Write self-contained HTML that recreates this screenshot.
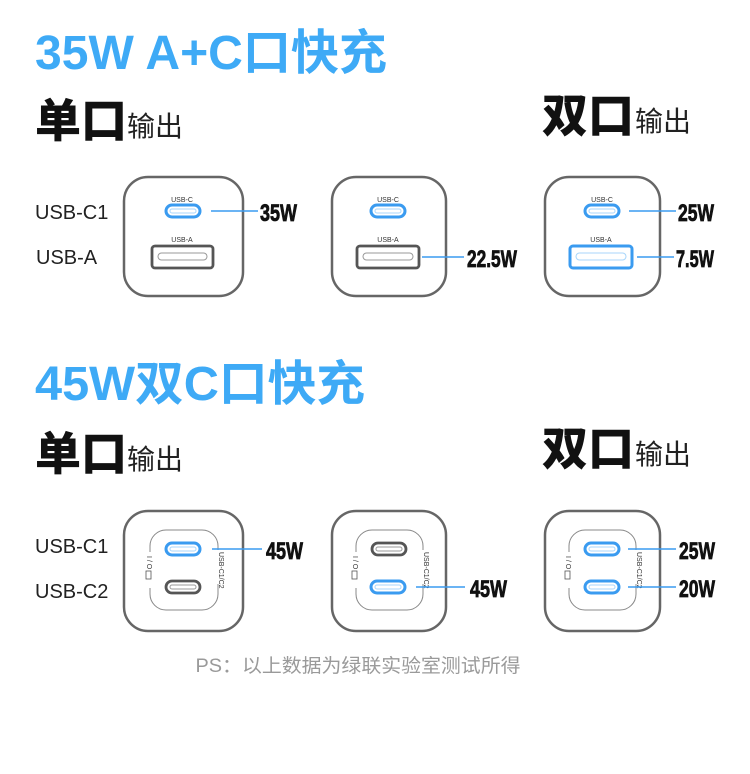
<!DOCTYPE html>
<html><head><meta charset="utf-8"><style>
html,body{margin:0;padding:0;background:#fff;}
svg{display:block;}
.ttl{font-family:"Liberation Sans","Noto Sans CJK SC",sans-serif;font-weight:bold;fill:#3eaaf6;}
.big{font-family:"Liberation Sans","Noto Sans CJK SC",sans-serif;font-weight:900;fill:#111;}
.sm{font-family:"Liberation Sans","Noto Sans CJK SC",sans-serif;fill:#222;}
.lab{font-family:"Liberation Sans",sans-serif;fill:#222;font-size:20px;}
.num{font-family:"Liberation Sans Narrow","Liberation Sans",sans-serif;font-weight:bold;fill:#111;font-size:24px;stroke:#111;stroke-width:0.8;}
.tiny{font-family:"Liberation Sans",sans-serif;fill:#333;font-size:7px;}
.box{fill:#fff;stroke:#666;stroke-width:2.5;}
.bp{fill:none;stroke:#3a9bf0;stroke-width:3;}
.bpi{fill:none;stroke:#a8d6fb;stroke-width:1;}
.gp{fill:none;stroke:#555;stroke-width:2.8;}
.gpi{fill:none;stroke:#999;stroke-width:1;}
.ln{stroke:#3a9bf0;stroke-width:1.5;}
.inn{fill:none;stroke:#888;stroke-width:1;}
</style></head><body>
<svg width="750" height="774" viewBox="0 0 750 774" xmlns="http://www.w3.org/2000/svg">
<text class="ttl" x="35" y="69" font-size="48" textLength="352" lengthAdjust="spacingAndGlyphs">35W A+C口快充</text>
<text class="big" x="35" y="137" font-size="46">单口</text>
<text class="sm" x="127" y="136" font-size="28">输出</text>
<text class="big" x="542" y="132" font-size="46">双口</text>
<text class="sm" x="635" y="131" font-size="28">输出</text>

<text class="lab" x="35" y="219">USB-C1</text>
<text class="lab" x="36" y="264">USB-A</text>

<rect class="box" x="124" y="177" width="119" height="119" rx="24"/>
<text class="tiny" x="182" y="202" text-anchor="middle">USB-C</text>
<rect class="bp" x="166" y="205" width="34" height="12" rx="6"/>
<rect class="bpi" x="170" y="209" width="26" height="4" rx="2"/>
<text class="tiny" x="182" y="242" text-anchor="middle">USB-A</text>
<rect class="gp" x="152" y="246" width="61" height="22" rx="3"/>
<rect class="gpi" x="158" y="253" width="49" height="7" rx="3.5"/>
<line class="ln" x1="211" y1="211" x2="258" y2="211"/>
<text class="num" x="260" y="221" textLength="37" lengthAdjust="spacingAndGlyphs">35W</text>

<rect class="box" x="332" y="177" width="114" height="119" rx="24"/>
<text class="tiny" x="388" y="202" text-anchor="middle">USB-C</text>
<rect class="bp" x="371" y="205" width="34" height="12" rx="6"/>
<rect class="bpi" x="375" y="209" width="26" height="4" rx="2"/>
<text class="tiny" x="388" y="242" text-anchor="middle">USB-A</text>
<rect class="gp" x="357" y="246" width="62" height="22" rx="3"/>
<rect class="gpi" x="363" y="253" width="50" height="7" rx="3.5"/>
<line class="ln" x1="422" y1="257" x2="464" y2="257"/>
<text class="num" x="467" y="267" textLength="50" lengthAdjust="spacingAndGlyphs">22.5W</text>

<rect class="box" x="545" y="177" width="115" height="119" rx="24"/>
<text class="tiny" x="602" y="202" text-anchor="middle">USB-C</text>
<rect class="bp" x="585" y="205" width="34" height="12" rx="6"/>
<rect class="bpi" x="589" y="209" width="26" height="4" rx="2"/>
<text class="tiny" x="601" y="242" text-anchor="middle">USB-A</text>
<rect class="bp" x="570" y="246" width="62" height="22" rx="3"/>
<rect class="bpi" x="576" y="253" width="50" height="7" rx="3.5"/>
<line class="ln" x1="629" y1="211" x2="676" y2="211"/>
<text class="num" x="678" y="221" textLength="36" lengthAdjust="spacingAndGlyphs">25W</text>
<line class="ln" x1="637" y1="257" x2="674" y2="257"/>
<text class="num" x="676" y="267" textLength="38" lengthAdjust="spacingAndGlyphs">7.5W</text>

<text class="ttl" x="35" y="400" font-size="48" textLength="330" lengthAdjust="spacingAndGlyphs">45W双C口快充</text>
<text class="big" x="35" y="470" font-size="46">单口</text>
<text class="sm" x="127" y="469" font-size="28">输出</text>
<text class="big" x="542" y="465" font-size="46">双口</text>
<text class="sm" x="635" y="464" font-size="28">输出</text>

<text class="lab" x="35" y="553">USB-C1</text>
<text class="lab" x="35" y="598">USB-C2</text>

<rect class="box" x="124" y="511" width="119" height="120" rx="24"/>
<rect class="inn" x="150" y="530" width="68" height="80" rx="16"/>
<rect x="146" y="552" width="8" height="36" fill="#fff"/>
<rect x="214" y="550" width="8" height="34" fill="#fff"/>
<text class="tiny" font-size="5" transform="translate(147,556) rotate(90)">I / O</text>
<rect x="146" y="571" width="5" height="8" fill="none" stroke="#555" stroke-width="0.8"/>
<text class="tiny" font-size="5" transform="translate(219,552) rotate(90)">USB-C1/C2</text>
<rect class="bp" x="166" y="543" width="34" height="12" rx="6"/>
<rect class="bpi" x="170" y="547" width="26" height="4" rx="2"/>
<rect class="gp" x="166" y="581" width="34" height="12" rx="6"/>
<rect class="gpi" x="170" y="585" width="26" height="4" rx="2"/>
<line class="ln" x1="212" y1="549" x2="262" y2="549"/>
<text class="num" x="266" y="559" textLength="37" lengthAdjust="spacingAndGlyphs">45W</text>

<rect class="box" x="332" y="511" width="114" height="120" rx="24"/>
<rect class="inn" x="356" y="530" width="67" height="80" rx="16"/>
<rect x="352" y="552" width="8" height="36" fill="#fff"/>
<rect x="419" y="550" width="8" height="34" fill="#fff"/>
<text class="tiny" font-size="5" transform="translate(353,556) rotate(90)">I / O</text>
<rect x="352" y="571" width="5" height="8" fill="none" stroke="#555" stroke-width="0.8"/>
<text class="tiny" font-size="5" transform="translate(424,552) rotate(90)">USB-C1/C2</text>
<rect class="gp" x="372" y="543" width="34" height="12" rx="6"/>
<rect class="gpi" x="376" y="547" width="26" height="4" rx="2"/>
<rect class="bp" x="371" y="581" width="34" height="12" rx="6"/>
<rect class="bpi" x="375" y="585" width="26" height="4" rx="2"/>
<line class="ln" x1="416" y1="587" x2="465" y2="587"/>
<text class="num" x="470" y="597" textLength="37" lengthAdjust="spacingAndGlyphs">45W</text>

<rect class="box" x="545" y="511" width="115" height="120" rx="24"/>
<rect class="inn" x="569" y="530" width="67" height="80" rx="16"/>
<rect x="565" y="552" width="8" height="36" fill="#fff"/>
<rect x="632" y="550" width="8" height="34" fill="#fff"/>
<text class="tiny" font-size="5" transform="translate(566,556) rotate(90)">I / O</text>
<rect x="565" y="571" width="5" height="8" fill="none" stroke="#555" stroke-width="0.8"/>
<text class="tiny" font-size="5" transform="translate(637,552) rotate(90)">USB-C1/C2</text>
<rect class="bp" x="585" y="543" width="34" height="12" rx="6"/>
<rect class="bpi" x="589" y="547" width="26" height="4" rx="2"/>
<rect class="bp" x="585" y="581" width="34" height="12" rx="6"/>
<rect class="bpi" x="589" y="585" width="26" height="4" rx="2"/>
<line class="ln" x1="628" y1="549" x2="676" y2="549"/>
<text class="num" x="679" y="559" textLength="36" lengthAdjust="spacingAndGlyphs">25W</text>
<line class="ln" x1="628" y1="587" x2="676" y2="587"/>
<text class="num" x="679" y="597" textLength="36" lengthAdjust="spacingAndGlyphs">20W</text>

<text x="358" y="672" text-anchor="middle" font-family="Liberation Sans,Noto Sans CJK SC,sans-serif" font-size="19" fill="#9a9a9a" textLength="325" lengthAdjust="spacingAndGlyphs">PS：以上数据为绿联实验室测试所得</text>
</svg>
</body></html>
